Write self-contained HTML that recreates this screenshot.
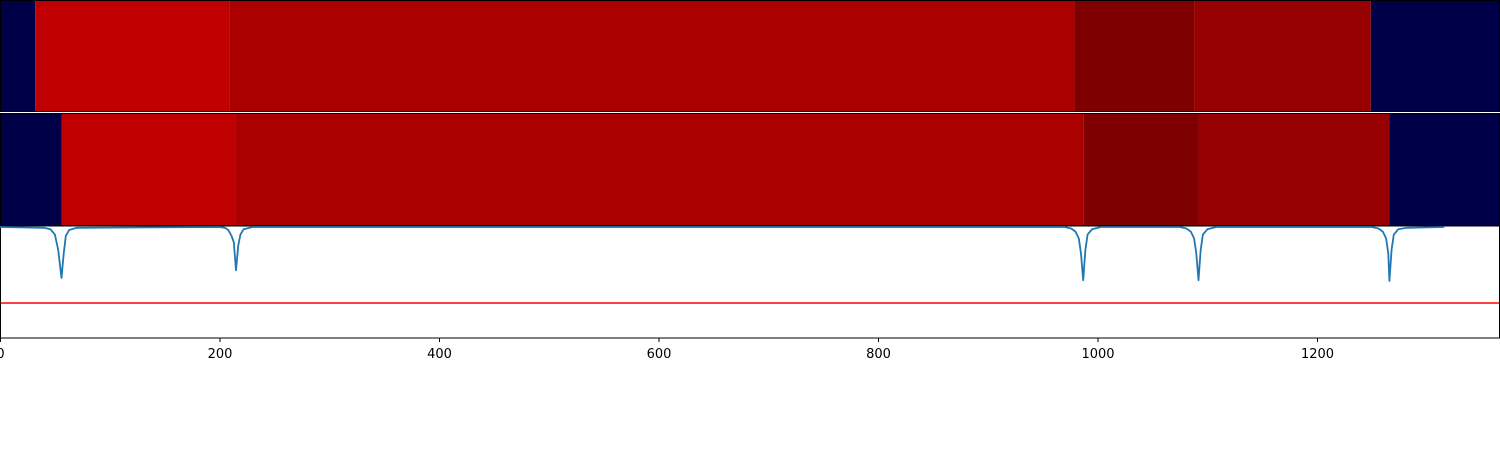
<!DOCTYPE html>
<html><head><meta charset="utf-8"><style>
html,body{margin:0;padding:0;background:#fff;width:1500px;height:450px;overflow:hidden}
svg text{font-family:"DejaVu Sans","Liberation Sans",sans-serif;font-size:13px}
</style></head><body>
<svg id="chart" width="1500" height="450" xmlns="http://www.w3.org/2000/svg"></svg>
<script>
const xTicks=[0,200,400,600,800,1000,1200];
const row1Bounds=[0,32,209,979,1088,1249,1367];
const row1Colors=["#000048","#c00000","#ab0000","#7e0000","#960000","#000048"];
const row2Bounds=[0,56,215,987,1092,1266,1367];
const row2Colors=["#000048","#c00000","#ab0000","#7e0000","#960000","#000048"];
const lineX=[0,40,46,50,53,56,58,60,63,70,200,205,208,211,213,215,217,219,222,230,970,976,980,983,985,987,989,991,995,1003,1075,1081,1085,1088,1090,1092,1094,1096,1100,1108,1250,1256,1260,1263,1265,1266,1268,1270,1274,1282,1316];
const lineY=[0,-0.01,-0.03,-0.1,-0.3,-0.67,-0.35,-0.12,-0.04,-0.01,0,-0.01,-0.04,-0.12,-0.2,-0.57,-0.25,-0.1,-0.03,0,0,-0.02,-0.06,-0.15,-0.35,-0.7,-0.3,-0.1,-0.03,0,0,-0.02,-0.06,-0.15,-0.35,-0.7,-0.3,-0.1,-0.03,0,0,-0.02,-0.06,-0.15,-0.35,-0.71,-0.3,-0.1,-0.03,-0.01,0];
const threshold=[-1];
const svg=document.getElementById('chart');
const NS="http://www.w3.org/2000/svg";
const X=v=>v*1.0975;
const Y=v=>227-v*76;
function mk(t,a){const e=document.createElementNS(NS,t);for(const k in a)e.setAttribute(k,a[k]);svg.appendChild(e);return e;}
function row(b,c,y0,h,nm){for(let i=0;i<c.length;i++){const r=mk('rect',{x:X(b[i]),y:y0,width:X(b[i+1])-X(b[i]),height:h,fill:c[i]});

}
const f=mk('rect',{x:0.5,y:y0+0.5,width:1499,height:h-1,fill:'none',stroke:'#000','stroke-width':1});

}
row(row1Bounds,row1Colors,0,112,'heatmap-row-1');
row(row2Bounds,row2Colors,113,113,'heatmap-row-2');
const ax=mk('rect',{x:0.5,y:226,width:1499,height:112,fill:'none',stroke:'#000','stroke-width':1});


const th=mk('line',{x1:1,x2:1499,y1:Y(threshold[0]),y2:Y(threshold[0]),stroke:'#ff0000','stroke-width':1.5});


let d='';lineX.forEach((v,i)=>{d+=(i?'L':'M')+X(v).toFixed(1)+','+Y(lineY[i]).toFixed(1);});
const p=mk('path',{d:d,fill:'none',stroke:'#1f77b4','stroke-width':1.8,'stroke-linejoin':'round'});


xTicks.forEach(t=>{const l=mk('line',{x1:X(t)+0.5,x2:X(t)+0.5,y1:338,y2:342,stroke:'#000'});


const tx=mk('text',{x:X(t)+0.5,y:358,'text-anchor':'middle',fill:'#000'});tx.textContent=t;

});
</script>
</body></html>
